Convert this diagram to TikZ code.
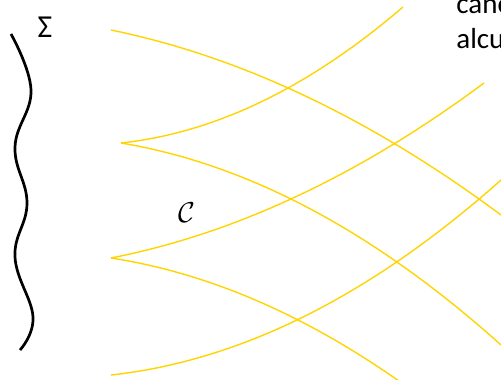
\documentclass[tikz,border=0pt]{standalone}
\usepackage{fontspec}
\setsansfont{Carlito}
\begin{document}
\begin{tikzpicture}[x=0.5pt,y=-0.5pt,
  ray/.style={draw={rgb,255:red,255;green,212;blue,0}, line width=0.7pt},
  wall/.style={draw=black, line width=1.35pt},
  lbl/.style={inner sep=0pt, font=\sffamily\fontsize{14.5}{14.5}\selectfont}]
\useasboundingbox (0,0) rectangle (501,379);
% cusps and ends
\coordinate (k0) at (111,30);
\coordinate (k1) at (121,143);
\coordinate (k2) at (111,258);
\coordinate (k3) at (111,375);
\coordinate (e1) at (511,222.5);
\coordinate (e2a) at (403,7);
\coordinate (e2b) at (511,354);
\coordinate (e3a) at (484,83);
\coordinate (e3b) at (411,389.6);
\coordinate (e4) at (511,171);
% yellow curves
\draw[ray] (k0) .. controls +(133.3,27.4) and +(-133.3,-100.9) .. (e1);
\draw[ray] (k1) .. controls +(94,-10.1) and +(-94,80.6) .. (e2a);
\draw[ray] (k1) .. controls +(130,21.6) and +(-130,-119) .. (e2b);
\draw[ray] (k2) .. controls +(124.3,-24.4) and +(-124.3,92.3) .. (e3a);
\draw[ray] (k2) .. controls +(100,15.4) and +(-100,-72.3) .. (e3b);
\draw[ray] (k3) .. controls +(133.3,-14.6) and +(-133.3,121.3) .. (e4);
% wavy surface
\draw[wall] plot[smooth, tension=0.7] coordinates {(11,34) (31,90) (15,147) (27,203) (15,257) (33,317) (20,350)};
% labels
\node[inner sep=0pt, font=\sffamily\fontsize{16}{16}\selectfont] (sigma) at (45,27) {Σ};
\node[inner sep=0pt, font=\fontsize{14.5}{14.5}\selectfont] (calc) at (187,213) {$\mathcal{C}$};
\node[lbl, anchor=base west] (t1) at (456,14) {canc};
\node[lbl, anchor=base west] (t2) at (456,49) {alcu};
\end{tikzpicture}
\end{document}
